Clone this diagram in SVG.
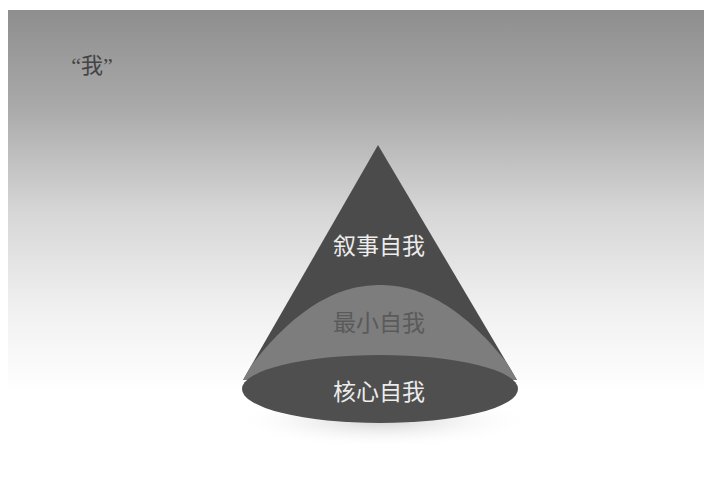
<svg xmlns="http://www.w3.org/2000/svg" width="704" height="489" viewBox="0 0 704 489">
<defs>
<linearGradient id="bg" x1="0" y1="0" x2="0" y2="1">
<stop offset="0" stop-color="#8e8e8e"/>
<stop offset="0.2" stop-color="#a9a9a9"/>
<stop offset="0.42" stop-color="#d6d6d6"/>
<stop offset="0.62" stop-color="#f0f0f0"/>
<stop offset="0.8" stop-color="#ffffff"/>
</linearGradient>
<radialGradient id="shadow" cx="0.5" cy="0.5" r="0.5">
<stop offset="0" stop-color="#d0d0d0"/>
<stop offset="1" stop-color="#ffffff" stop-opacity="0"/>
</radialGradient>
<clipPath id="cone">
<path d="M378 145 L243 380 L517 380 Z"/>
</clipPath>
<style>
.lbl{font-family:"Noto Sans CJK SC","Noto Sans CJK TC",sans-serif;font-size:23px;text-anchor:middle}
.light{fill:#ececec}
.dark{fill:#5a5a5a}
</style>
</defs>
<rect width="704" height="489" fill="#ffffff"/>
<rect x="8" y="10" width="696" height="479" fill="url(#bg)"/>
<ellipse cx="382" cy="420" rx="150" ry="28" fill="url(#shadow)"/>
<g id="title">
<text x="92" y="73" style="font-family:'Liberation Serif','Noto Sans CJK SC',serif;font-size:22px;text-anchor:middle;fill:#444444">“我”</text>
</g>
<g id="narrative-self">
<path d="M378 145 L243 380 L517 380 Z" fill="#4b4b4b"/>
<text class="lbl light" x="379" y="254">叙事自我</text>
</g>
<g id="minimal-self">
<path clip-path="url(#cone)" d="M246 372 C300 300 345 285 380 285 C415 285 460 300 514 372 L517 382 L243 382 Z" fill="#7d7d7d"/>
<text class="lbl dark" x="379" y="331">最小自我</text>
</g>
<g id="core-self">
<ellipse cx="380" cy="389" rx="138" ry="34" fill="#4f4f4f"/>
<text class="lbl light" x="379" y="400">核心自我</text>
</g>
<g id="connectors"/>
</svg>
